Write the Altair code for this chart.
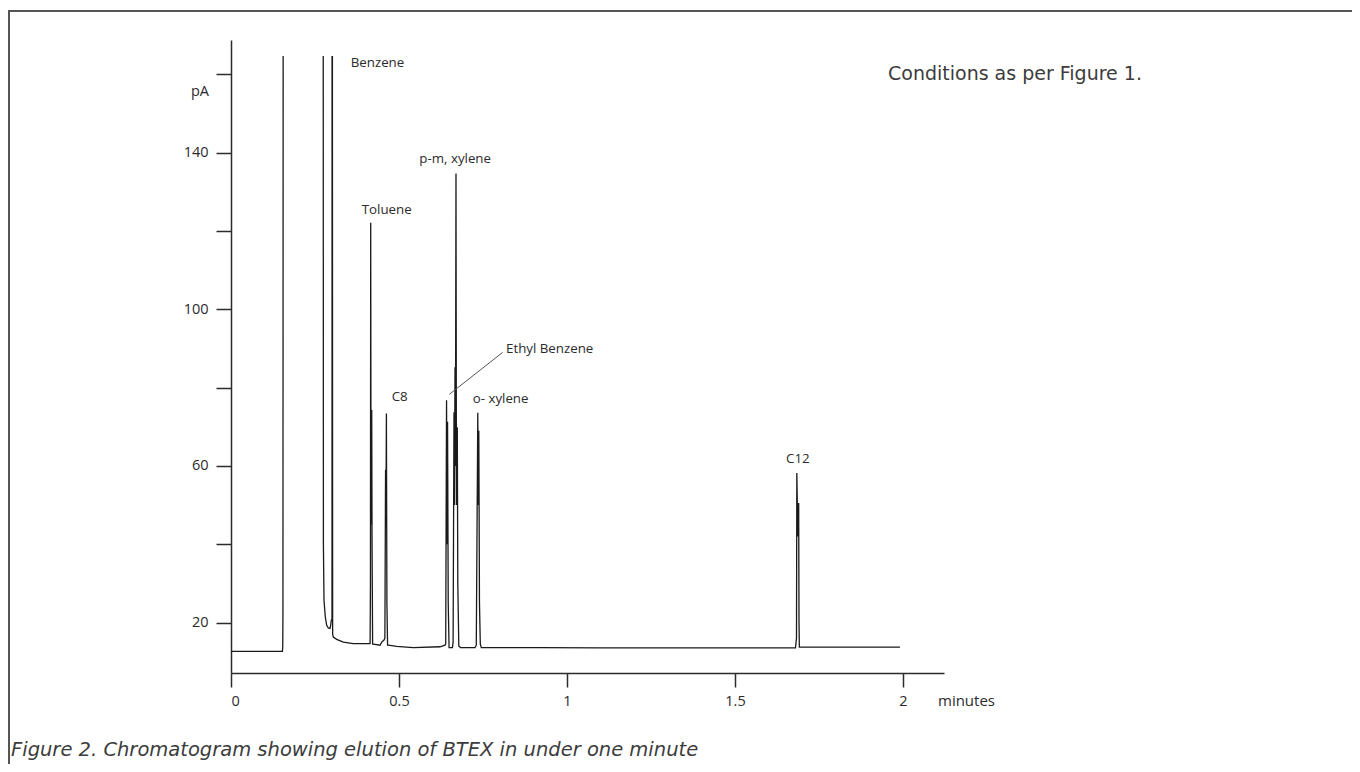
import altair as alt
import pandas as pd

# ---- trace data (minutes, pA, segment) ----
seg0_t = [0.0, 0.1530, 0.1540, 0.1546, 0.1552]
seg0_v = [12.6, 12.6, 13.8, 22.0, 164.7]

seg1_t = [0.2745, 0.2750, 0.2768, 0.2807, 0.2848, 0.2896, 0.2946, 0.2967, 0.2985, 0.3006, 0.3012]
seg1_v = [164.7, 40.0, 25.7, 21.4, 19.3, 18.6, 18.5, 19.3, 20.6, 20.8, 164.7]

seg2_t = [0.3018, 0.3025, 0.3045, 0.3146, 0.3342, 0.3640, 0.4086,
          0.4140, 0.4150, 0.4158, 0.4168, 0.4180, 0.4188, 0.4198, 0.4215,
          0.4236, 0.4435, 0.4485, 0.4554,
          0.4580, 0.4600, 0.4610, 0.4625, 0.4640, 0.4660,
          0.4682, 0.4932, 0.5426, 0.6220, 0.6369,
          0.6390, 0.6415, 0.6430, 0.6445, 0.6465, 0.6490, 0.6590,
          0.6610, 0.6637, 0.6650, 0.6667, 0.6680, 0.6696, 0.6710, 0.6735, 0.6750, 0.6780, 0.6830,
          0.7262, 0.7300, 0.7345, 0.7360, 0.7375, 0.7395, 0.7420, 0.7450,
          0.9200, 1.0980, 1.6735,
          1.6800, 1.6830, 1.6840, 1.6870, 1.6895, 1.6905, 1.6915, 1.9910]
seg2_v = [164.7, 17.0, 16.3, 15.7, 15.0, 14.6, 14.6,
          14.6, 30.0, 122.1, 45.0, 59.0, 74.3, 40.0, 14.5,
          14.5, 14.2, 15.0, 15.5,
          16.0, 59.0, 45.0, 73.4, 25.0, 14.2,
          14.2, 13.9, 13.6, 13.8, 14.2,
          14.5, 76.8, 40.0, 71.3, 25.0, 13.6, 13.6,
          15.0, 73.7, 50.0, 85.2, 60.0, 134.7, 50.0, 69.9, 30.0, 14.0, 13.6,
          13.6, 14.2, 73.6, 50.0, 69.0, 25.0, 14.5, 13.6,
          13.6, 13.5, 13.5,
          13.5, 16.0, 58.2, 42.0, 50.5, 20.0, 13.7, 13.7]

# ---- peak labels ----
label_names = ["Benzene", "Toluene", "p-m, xylene", "C8", "Ethyl Benzene", "o- xylene", "C12"]
label_t = [0.3562, 0.3890, 0.5604, 0.4783, 0.8185, 0.7193, 1.6518]
label_v = [162.9, 125.4, 138.3, 77.7, 89.8, 77.0, 61.7]

# leader line for Ethyl Benzene
leader_t = [0.6500, 0.8086]
leader_v = [78.3, 89.0]

y_ticks = [20, 40, 60, 80, 100, 120, 140, 160]
x_ticks = [0, 0.5, 1, 1.5, 2]

FONT = "Open Sans"
INK = "#2b2b2b"

rows = []
for s, (ts, vs) in enumerate([(seg0_t, seg0_v), (seg1_t, seg1_v), (seg2_t, seg2_v)]):
    for t, v in zip(ts, vs):
        rows.append({"t": t, "pA": v, "seg": s})
trace_df = pd.DataFrame(rows)

xscale = alt.Scale(domain=[0, 2.122], nice=False, zero=False)
yscale = alt.Scale(domain=[7.1, 168.8], nice=False, zero=False)

xaxis = alt.Axis(values=x_ticks, title=None, grid=False, tickSize=14, tickWidth=1.5,
                 tickColor=INK, domainColor=INK, domainWidth=1.5,
                 labelFont=FONT, labelFontSize=14.5, labelColor=INK, labelPadding=7,
                 labelExpr="format(datum.value, '~g')")
yaxis = alt.Axis(values=y_ticks, title=None, grid=False, tickSize=15, tickWidth=1.5,
                 tickColor=INK, domainColor=INK, domainWidth=1.5,
                 labelFont=FONT, labelFontSize=14.5, labelColor=INK, labelPadding=8,
                 labelExpr="datum.value % 40 == 20 ? datum.label : ''")

trace = alt.Chart(trace_df).mark_line(color="#1a1a1a", strokeWidth=1.3, clip=True).encode(
    x=alt.X("t:Q", scale=xscale, axis=xaxis),
    y=alt.Y("pA:Q", scale=yscale, axis=yaxis),
    detail="seg:N",
)

lab_df = pd.DataFrame({"name": label_names, "t": label_t, "v": label_v})
labels = alt.Chart(lab_df).mark_text(align="left", baseline="middle", font=FONT,
                                     fontSize=13.3, color=INK).encode(
    x=alt.X("t:Q", scale=xscale), y=alt.Y("v:Q", scale=yscale), text="name:N")

leader = alt.Chart(pd.DataFrame({"t": [leader_t[0]], "t2": [leader_t[1]],
                                 "v": [leader_v[0]], "v2": [leader_v[1]]})).mark_rule(
    color="#555555", strokeWidth=1).encode(
    x=alt.X("t:Q", scale=xscale), x2="t2:Q", y=alt.Y("v:Q", scale=yscale), y2="v2:Q")

one = pd.DataFrame({"a": [0]})
pa = alt.Chart(one).mark_text(text="pA", align="left", baseline="middle", font=FONT,
                              fontSize=14.5, color=INK).encode(x=alt.value(-40), y=alt.value(52))
minutes = alt.Chart(one).mark_text(text="minutes", align="left", baseline="middle", font=FONT,
                                   fontSize=15, color=INK).encode(x=alt.value(707), y=alt.value(661))
cond = alt.Chart(one).mark_text(text="Conditions as per Figure 1.", align="left", baseline="middle",
                                font="DejaVu Sans", fontSize=19, color="#3c3c3c").encode(
    x=alt.value(657), y=alt.value(34))
caption = alt.Chart(one).mark_text(text="Figure 2. Chromatogram showing elution of BTEX in under one minute",
                                   align="left", baseline="middle", font="DejaVu Sans",
                                   fontStyle="italic", fontSize=19.5, color="#3c3c3c").encode(
    x=alt.value(-220), y=alt.value(710))
frame_top = alt.Chart(one).mark_rule(color="#555555", strokeWidth=2).encode(
    x=alt.value(-223), x2=alt.value(1140), y=alt.value(-29))
frame_left = alt.Chart(one).mark_rule(color="#555555", strokeWidth=2).encode(
    x=alt.value(-222), y=alt.value(-30), y2=alt.value(740))

chart = alt.layer(frame_top, frame_left, trace, leader, labels, pa, minutes, cond, caption).properties(
    width=713, height=633,
    background="white",
    autosize=alt.AutoSizeParams(type="none"),
    padding={"left": 223, "top": 32, "right": 408, "bottom": 91},
).configure_view(strokeWidth=0, stroke="transparent")

chart.save("out.html", embed_options={"renderer": "svg", "actions": False})
